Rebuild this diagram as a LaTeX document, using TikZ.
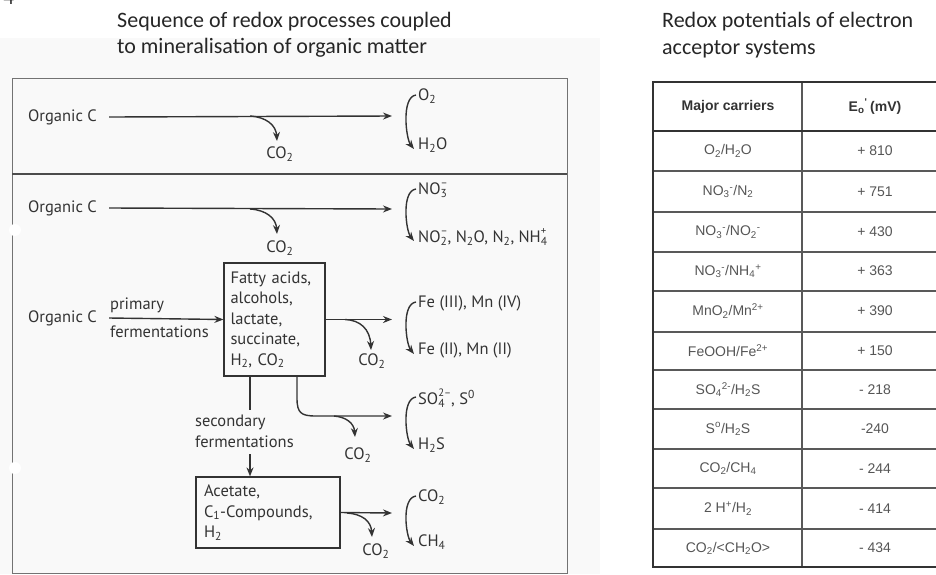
\documentclass[tikz,border=0pt]{standalone}
\usepackage{fontspec}
\setmainfont{Carlito}
\newfontfamily\lfont{PT Sans}
\newfontfamily\tfont{Liberation Sans}
\usetikzlibrary{arrows.meta}
\definecolor{ink}{HTML}{333333}
\definecolor{tgray}{HTML}{555555}
\newcommand\subsup[2]{\setbox0\hbox{\raisebox{0.5em}{\fontsize{0.65em}{0.65em}\selectfont #2}}\setbox2\hbox{\textsubscript{#1}}\ifdim\wd0>\wd2 \rlap{\box2}\box0\else\rlap{\box0}\box2\fi}
\tikzset{
  title/.style={anchor=base west,inner sep=0pt,font=\fontsize{22}{26}\selectfont,text=black!85},
  lab/.style={anchor=west,inner sep=0pt,font=\lfont\fontsize{16.5}{20}\selectfont,text=ink},
  labc/.style={lab,anchor=center},
  arr/.style={draw=ink,line width=1.4pt,-{Stealth[length=9pt,width=7pt]}},
  plain/.style={draw=ink,line width=1.4pt},
  boxn/.style={draw=ink,line width=1.2pt,inner sep=0pt,font=\lfont\fontsize{16.5}{20.5}\selectfont,text=ink,align=left},
  tcell/.style={inner sep=0pt,font=\tfont\fontsize{14}{16}\selectfont,text=tgray},
  thead/.style={inner sep=0pt,font=\tfont\bfseries\fontsize{14}{16}\selectfont,text=black!80},
  touter/.style={draw=black!80,line width=1.8pt},
  tinner/.style={draw=black!65,line width=1.1pt},
}
\newcommand\pairarrow[2]{\draw[arr] ([shift={(-2pt,1pt)}]#1.west) .. controls +(-15,2) and +(-8,-10) .. ([shift={(-4pt,-4pt)}]#2.west);}
\begin{document}
\begin{tikzpicture}[x=1pt,y=-1pt]
\useasboundingbox (0,0) rectangle (936,574);
\fill[black!2.5] (0,38) rectangle (600,574);
\node[title] (num) at (3,4) {4};
% titles
\node[title] (t1) at (117,27) {Sequence of redox processes coupled};
\node[title] (t2) at (117,53) {to mineralisation of organic matter};
\node[title] (t3) at (662,27) {Redox potentials of electron};
\node[title] (t4) at (662,54) {acceptor systems};
% frame
\draw[draw=black!55,line width=1pt] (12,78) rectangle (567,573);
\draw[draw=black!70,line width=1.6pt] (12,174) -- (567,174);
\fill[white] (15,230) circle (6);
\fill[white] (15,468) circle (6);
% row 1: oxygen
\node[lab] (oc1) at (28,117) {Organic C};
\coordinate (e1) at (392,116);
\coordinate (b1) at (250,116);
\draw[arr] ([xshift=12pt]oc1.east) -- (e1);
\node[labc] (c1) at (280,154) {CO\textsubscript{2}};
\draw[arr] (b1) .. controls (266,117) and (276,125) .. (277,141);
\node[lab] (o2) at (418,96) {O\textsubscript{2}};
\node[lab] (h2o) at (418,145) {H\textsubscript{2}O};
\pairarrow{o2}{h2o}
% row 2: nitrate
\node[lab] (oc2) at (28,208) {Organic C};
\coordinate (e2) at (392,209);
\coordinate (b2) at (250,209);
\draw[arr] ([xshift=12pt]oc2.east) -- (e2);
\node[labc] (c2) at (280,248) {CO\textsubscript{2}};
\draw[arr] (b2) .. controls (266,210) and (276,218) .. (277,234);
\node[lab] (no3) at (418,190) {NO\subsup{3}{–}};
\node[lab] (no2) at (418,237) {NO\subsup{2}{–}, N\textsubscript{2}O, N\textsubscript{2}, NH\subsup{4}{+}};
\pairarrow{no3}{no2}
% row 3: fermentation, Fe/Mn
\node[lab] (oc3) at (28,318) {Organic C};
\node[lab] (pf1) at (110,305) {primary};
\node[lab] (pf2) at (110,332) {fermentations};
\node[boxn,minimum width=101pt,minimum height=113pt,text width=88pt] (fa) at (274.5,319.5)
  {Fatty acids,\\alcohols,\\lactate,\\succinate,\\H\textsubscript{2}, CO\textsubscript{2}};
\draw[arr] ([xshift=12pt]oc3.east) -- (fa.west);
\coordinate (e3) at (392,319.5);
\coordinate (b3) at (345,319.5);
\draw[arr] (fa.east) -- (e3);
\node[labc] (c3) at (372,361) {CO\textsubscript{2}};
\draw[arr] (b3) .. controls (360,320) and (370,329) .. (371,350);
\node[lab] (fe3) at (418,303) {Fe (III), Mn (IV)};
\node[lab] (fe2) at (418,350) {Fe (II), Mn (II)};
\pairarrow{fe3}{fe2}
% row 4: sulphate
\coordinate (e4) at (392,416);
\coordinate (b4) at (334,416);
\draw[arr] ([xshift=22.5pt]fa.south) -- (297,398) .. controls (297,413) and (301,416) .. (316,416) -- (e4);
\node[labc] (c4) at (358,455) {CO\textsubscript{2}};
\draw[arr] (b4) .. controls (346,417) and (354,423) .. (355,437);
\node[lab] (so4) at (418,398) {SO\subsup{4}{2–}, S\textsuperscript{0}};
\node[lab] (h2s) at (418,445) {H\textsubscript{2}S};
\pairarrow{so4}{h2s}
% secondary fermentation
\node[lab] (sf1) at (195,422) {secondary};
\node[lab] (sf2) at (195,442) {fermentations};
\node[boxn,minimum width=144pt,minimum height=71pt,text width=128pt] (ac) at (268,512.5)
  {Acetate,\\C\textsubscript{1}-Compounds,\\H\textsubscript{2}};
\coordinate (s1) at (250,410);
\coordinate (s2) at (250,454);
\draw[plain] ([xshift=-24.5pt]fa.south) -- (s1);
\draw[arr] (s2) -- (ac.north -| s2);
% row 5: methanogenesis
\coordinate (e5) at (392,513);
\coordinate (b5) at (347,513);
\draw[arr] (ac.east) -- (e5);
\node[labc] (c5) at (376,551) {CO\textsubscript{2}};
\draw[arr] (b5) .. controls (362,514) and (371,521) .. (372,537);
\node[lab] (co2p) at (418,497) {CO\textsubscript{2}};
\node[lab] (ch4) at (418,542) {CH\textsubscript{4}};
\pairarrow{co2p}{ch4}
% table
\node[thead] (h1) at (728,106.5) {Major carriers};
\node[thead] (h2) at (875,106.5) {E\textsubscript{o}\textsuperscript{'}\kern-1pt\ (mV)};
\foreach \y/\a/\b [count=\i] in {
  151/{O\textsubscript{2}/H\textsubscript{2}O}/{+ 810},
  191.5/{NO\textsubscript{3}\textsuperscript{-}/N\textsubscript{2}}/{+ 751},
  232/{NO\textsubscript{3}\textsuperscript{-}/NO\textsubscript{2}\textsuperscript{-}}/{+ 430},
  271/{NO\textsubscript{3}\textsuperscript{-}/NH\textsubscript{4}\textsuperscript{+}}/{+ 363},
  311/{MnO\textsubscript{2}/Mn\textsuperscript{2+}}/{+ 390},
  351/{FeOOH/Fe\textsuperscript{2+}}/{+ 150},
  389.5/{SO\textsubscript{4}\textsuperscript{2-}/H\textsubscript{2}S}/{- 218},
  429/{S\textsuperscript{o}/H\textsubscript{2}S}/{-240},
  468.5/{CO\textsubscript{2}/CH\textsubscript{4}}/{- 244},
  508.5/{2 H\textsuperscript{+}/H\textsubscript{2}}/{- 414},
  548/{CO\textsubscript{2}/<CH\textsubscript{2}O>}/{- 434}}{
  \node[tcell] (l\i) at (728,\y) {\a};
  \node[tcell] (r\i) at (875,\y) {\b};
}
\foreach \y in {171,212,252,291,332,370,409,449,488,529}{
  \draw[tinner] (653,\y) -- (940,\y);
}
\draw[tinner] (802,82) -- (802,567);
\draw[touter] (940,82) -- (653,82) -- (653,567) -- (940,567);
\draw[touter] (653,131) -- (940,131);
\end{tikzpicture}
\end{document}
